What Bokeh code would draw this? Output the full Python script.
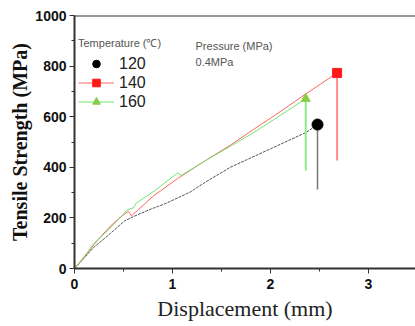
from bokeh.plotting import figure
from bokeh.models import (Range1d, SingleIntervalTicker, Legend, LegendItem, Label, Span)
from bokeh.embed import file_html
from bokeh.resources import INLINE

# ---- data ----
disp_120 = [0, 0.1, 0.2, 0.31, 0.4, 0.51, 0.6, 0.78, 0.92, 1.18, 1.33, 1.59, 2.0, 2.37, 2.48]
str_120 = [0, 42, 85, 120, 150, 188, 205, 235, 255, 302, 340, 400, 473, 539, 569]

disp_140 = [0, 0.1, 0.2, 0.3, 0.4, 0.5, 0.55, 0.58, 0.65, 0.8, 1.05, 1.33, 1.6, 1.86, 2.1, 2.36, 2.68]
str_140 = [0, 45, 95, 140, 180, 212, 226, 208, 232, 285, 355, 425, 490, 558, 620, 690, 773]

disp_160 = [0, 0.1, 0.2, 0.34, 0.45, 0.54, 0.6, 0.63, 0.82, 1.05, 1.09, 1.33, 1.6, 1.86, 2.1, 2.36]
str_160 = [0, 48, 100, 150, 195, 232, 240, 258, 308, 377, 368, 425, 485, 545, 605, 671]

# failure drops (x, top, bottom)
drop_120 = [2.48, 569, 312]
drop_140 = [2.68, 773, 427]
drop_160 = [2.36, 671, 387]

legend_labels = ["120", "140", "160"]
x_ticks_interval = 1
y_ticks_interval = 200

p = figure(width=415, height=326, output_backend="svg", toolbar_location=None,
           x_range=Range1d(0, 3.48), y_range=Range1d(0, 1000))
p.min_border_left = 74
p.min_border_right = 0
p.min_border_top = 15
p.min_border_bottom = 58
p.outline_line_color = None
p.grid.visible = False
p.background_fill_color = "white"
p.border_fill_color = "white"

for ax in (p.xaxis[0], p.yaxis[0]):
    ax.axis_line_width = 2
    ax.axis_line_color = "#333333"
    ax.major_tick_line_color = "#333333"
    ax.minor_tick_line_color = "#333333"
    ax.major_tick_line_width = 1
    ax.minor_tick_line_width = 1
    ax.major_tick_in = 0
    ax.major_tick_out = 5
    ax.minor_tick_in = 0
    ax.minor_tick_out = 3
    ax.major_label_text_font = "Liberation Sans"
    ax.major_label_text_font_style = "bold"
    ax.major_label_text_font_size = "14px"
    ax.major_label_text_color = "#111111"

p.xaxis.ticker = SingleIntervalTicker(interval=x_ticks_interval, num_minor_ticks=2)
p.yaxis.ticker = SingleIntervalTicker(interval=y_ticks_interval, num_minor_ticks=2)
p.xaxis.major_label_standoff = 5
p.yaxis.major_label_standoff = 3

p.xaxis.axis_label = "Displacement (mm)"
p.xaxis.axis_label_text_font = "Liberation Serif"
p.xaxis.axis_label_text_font_style = "normal"
p.xaxis.axis_label_text_font_size = "22px"
p.xaxis.axis_label_text_color = "#222222"
p.xaxis.axis_label_standoff = 4

p.yaxis.axis_label = "Tensile Strength (MPa)"
p.yaxis.axis_label_text_font = "Liberation Serif"
p.yaxis.axis_label_text_font_style = "bold"
p.yaxis.axis_label_text_font_size = "20px"
p.yaxis.axis_label_text_color = "#111111"
p.yaxis.axis_label_standoff = 1

p.add_layout(Span(location=1000, dimension="width", line_color="#333333", line_width=2))

# curves
l120 = p.line(disp_120, str_120, line_color="#555555", line_width=1, line_dash="3 1")
l140 = p.line(disp_140, str_140, line_color="#ff6464", line_width=1)
l160 = p.line(disp_160, str_160, line_color="#70e470", line_width=1)

# drops
p.segment(x0=[drop_120[0]], y0=[drop_120[1]], x1=[drop_120[0]], y1=[drop_120[2]],
          line_color="#777777", line_width=1.5)
p.segment(x0=[drop_140[0]], y0=[drop_140[1]], x1=[drop_140[0]], y1=[drop_140[2]],
          line_color="#ff8a8a", line_width=2)
p.segment(x0=[drop_160[0]], y0=[drop_160[1]], x1=[drop_160[0]], y1=[drop_160[2]],
          line_color="#88ee88", line_width=2)

# end markers
m120 = p.scatter([disp_120[-1]], [str_120[-1]], marker="circle", size=11,
                 fill_color="black", line_color="black")
m140 = p.scatter([disp_140[-1]], [str_140[-1]], marker="square", size=9,
                 fill_color="#ff1a1a", line_color="#ff1a1a")
m160 = p.scatter([disp_160[-1]], [str_160[-1]], marker="triangle", size=9,
                 fill_color="#88cc44", line_color="#88cc44")

legend = Legend(items=[
    LegendItem(label=legend_labels[0], renderers=[m120]),
    LegendItem(label=legend_labels[1], renderers=[l140, m140]),
    LegendItem(label=legend_labels[2], renderers=[l160, m160]),
], location=(4, 157))
legend.title = "Temperature (\u2103)"
legend.title_text_font = "Liberation Sans"
legend.title_text_font_style = "normal"
legend.title_text_font_size = "11px"
legend.title_text_color = "#555555"
legend.title_standoff = 4
legend.label_text_font = "Liberation Sans"
legend.label_text_font_size = "16px"
legend.label_text_color = "#222222"
legend.glyph_width = 36
legend.glyph_height = 19
legend.label_height = 19
legend.label_standoff = 5
legend.spacing = 0
legend.padding = 8
legend.margin = 0
legend.border_line_color = None
legend.background_fill_alpha = 0
p.add_layout(legend)

p.add_layout(Label(x=1.235, y=881, text="Pressure (MPa)", text_font="Liberation Sans",
                   text_font_size="11px", text_color="#555555", text_baseline="middle"))
p.add_layout(Label(x=1.235, y=818, text="0.4MPa", text_font="Liberation Sans",
                   text_font_size="11px", text_color="#555555", text_baseline="middle"))

open("out.html", "w").write(file_html(p, INLINE))
